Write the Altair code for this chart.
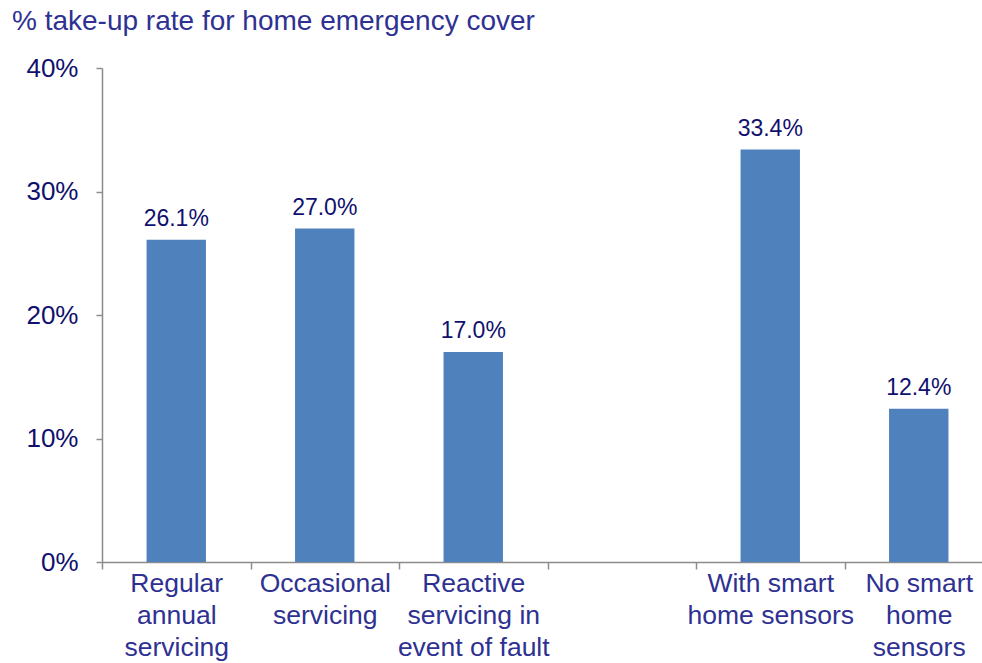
import altair as alt
import pandas as pd

# ---- data ----
categories = [
    "Regular|annual|servicing",
    "Occasional|servicing",
    "Reactive|servicing in|event of fault",
    "With smart|home sensors",
    "No smart|home|sensors",
]
values = [26.1, 27.0, 17.0, 33.4, 12.4]
axis_order = categories[:3] + [" "] + categories[3:]
y_ticks = [0, 10, 20, 30, 40]
title_text = ["% take-up rate for home emergency cover"]

df = pd.DataFrame({"category": categories, "value": values})
df["label"] = [f"{v:.1f}%" for v in values]
title_df = pd.DataFrame({"t": title_text})

FONT = "Liberation Sans"
BAR = "#4F81BD"
NAVY = "#10106E"
BLUE = "#2E3192"
GRAY = "#8C8C8C"

x_enc = alt.X(
    "category:N",
    sort=axis_order,
    scale=alt.Scale(domain=axis_order, paddingInner=0, paddingOuter=0, range=[0, 891]),
    axis=alt.Axis(
        title=None,
        labelAngle=0,
        labelExpr="split(datum.label, '|')",
        labelFont=FONT,
        labelFontSize=26.5,
        labelColor=BLUE,
        labelLineHeight=32,
        labelPadding=1,
        labelLimit=400,
        labelOverlap=False,
        labelBound=False,
        tickBand="extent",
        tickSize=7,
        tickColor=GRAY,
        tickWidth=1.5,
        domainColor=GRAY,
        domainWidth=1.5,
        grid=False,
    ),
)

y_enc = alt.Y(
    "value:Q",
    scale=alt.Scale(domain=[0, 40], nice=False, zero=True),
    axis=alt.Axis(
        title=None,
        values=y_ticks,
        labelExpr="datum.value + '%'",
        labelFont=FONT,
        labelFontSize=26,
        labelColor=NAVY,
        labelPadding=18,
        tickSize=6,
        tickColor=GRAY,
        tickWidth=1.5,
        domainColor=GRAY,
        domainWidth=1.5,
        grid=False,
    ),
)

base = alt.Chart(df)
bars = base.mark_bar(color=BAR, width=alt.RelativeBandSize(0.4)).encode(x=x_enc, y=y_enc)
labels = base.mark_text(
    font=FONT, fontSize=23, color=NAVY, baseline="alphabetic", dy=-14
).encode(x=alt.X("category:N", sort=axis_order), y="value:Q", text="label:N")

title = alt.Chart(title_df).mark_text(
    font=FONT, fontSize=28, color=BLUE, align="left", baseline="alphabetic"
).encode(x=alt.value(-90), y=alt.value(-38), text="t:N")

chart = (
    alt.layer(bars, labels, title)
    .properties(
        width=880,
        height=494,
        autosize=alt.AutoSizeParams(type="none"),
        padding={"left": 102, "top": 68, "right": 0, "bottom": 101},
    )
    .configure_view(stroke=None)
)

chart.save("out.html", embed_options={"renderer": "svg", "actions": False})
